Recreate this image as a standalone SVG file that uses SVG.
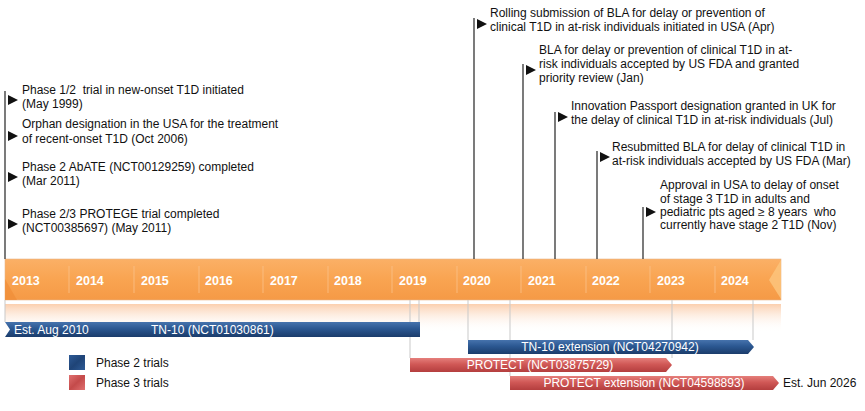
<svg xmlns="http://www.w3.org/2000/svg" width="865" height="411" viewBox="0 0 865 411">
<defs>
<linearGradient id="gOrange" x1="0" y1="0" x2="0" y2="1">
<stop offset="0" stop-color="#fbb066"/>
<stop offset="0.5" stop-color="#f9a451"/>
<stop offset="1" stop-color="#f59a46"/>
</linearGradient>
<linearGradient id="gPeach" x1="0" y1="0" x2="0" y2="1">
<stop offset="0" stop-color="#fbcfae"/>
<stop offset="1" stop-color="#ffffff" stop-opacity="0"/>
</linearGradient>
<linearGradient id="gBlue" x1="0" y1="0" x2="0" y2="1">
<stop offset="0" stop-color="#4673ad"/>
<stop offset="0.45" stop-color="#2b5791"/>
<stop offset="1" stop-color="#1b3c6b"/>
</linearGradient>
<linearGradient id="gRed" x1="0" y1="0" x2="0" y2="1">
<stop offset="0" stop-color="#e57f7b"/>
<stop offset="0.45" stop-color="#d05856"/>
<stop offset="1" stop-color="#b43e3e"/>
</linearGradient>
<linearGradient id="gBlueSq" x1="0" y1="0" x2="1" y2="1">
<stop offset="0" stop-color="#2e5b96"/>
<stop offset="0.5" stop-color="#1f4477"/>
<stop offset="1" stop-color="#2e5b96"/>
</linearGradient>
<linearGradient id="gRedSq" x1="0" y1="0" x2="1" y2="1">
<stop offset="0" stop-color="#e07070"/>
<stop offset="0.5" stop-color="#c44a4a"/>
<stop offset="1" stop-color="#e07070"/>
</linearGradient>
</defs>
<style>
.t{font-family:"Liberation Sans",Arial,sans-serif;font-size:12px;fill:#111;white-space:pre}
.yr{font-family:"Liberation Sans",Arial,sans-serif;font-size:12.5px;font-weight:bold;fill:#fff}
.bt{font-family:"Liberation Sans",Arial,sans-serif;font-size:12px;fill:#fff}
.stem{stroke:#222;stroke-width:1.2;fill:none}
.drop{stroke:#c9c9c9;stroke-width:1;fill:none}
.div{stroke:#fcc28a;stroke-width:1;opacity:0.8}
.arr{fill:#111}
</style>

<g id="timeline">
<rect x="5" y="304" width="776" height="28" fill="url(#gPeach)"/>
<rect x="5" y="259" width="776" height="41" fill="url(#gOrange)" stroke="#e8b58a" stroke-width="0.6"/>
<polygon points="5,279 17,300 5,300" fill="#ef8d38" opacity="0.7"/>
<polygon points="781,260 769,280 781,299" fill="#fcc27a" opacity="0.9"/>
<line class="div" x1="69" y1="266" x2="69" y2="293"/>
<line class="div" x1="134" y1="266" x2="134" y2="293"/>
<line class="div" x1="199" y1="266" x2="199" y2="293"/>
<line class="div" x1="263" y1="266" x2="263" y2="293"/>
<line class="div" x1="328" y1="266" x2="328" y2="293"/>
<line class="div" x1="392" y1="266" x2="392" y2="293"/>
<line class="div" x1="457" y1="266" x2="457" y2="293"/>
<line class="div" x1="521" y1="266" x2="521" y2="293"/>
<line class="div" x1="586" y1="266" x2="586" y2="293"/>
<line class="div" x1="650" y1="266" x2="650" y2="293"/>
<line class="div" x1="715" y1="266" x2="715" y2="293"/>
<text class="yr" x="12" y="285">2013</text>
<text class="yr" x="76" y="285">2014</text>
<text class="yr" x="141" y="285">2015</text>
<text class="yr" x="205" y="285">2016</text>
<text class="yr" x="270" y="285">2017</text>
<text class="yr" x="334" y="285">2018</text>
<text class="yr" x="399" y="285">2019</text>
<text class="yr" x="463" y="285">2020</text>
<text class="yr" x="528" y="285">2021</text>
<text class="yr" x="592" y="285">2022</text>
<text class="yr" x="657" y="285">2023</text>
<text class="yr" x="721" y="285">2024</text>
</g>

<g id="connectors">
<line class="stem" x1="5" y1="91" x2="5" y2="259"/>
<line class="stem" x1="474" y1="18" x2="474" y2="259"/>
<line class="stem" x1="523" y1="64" x2="523" y2="259"/>
<line class="stem" x1="555" y1="112" x2="555" y2="259"/>
<line class="stem" x1="597" y1="151" x2="597" y2="259"/>
<line class="stem" x1="643" y1="207" x2="643" y2="259"/>
<line class="drop" x1="5" y1="300" x2="5" y2="322"/>
<line class="drop" x1="410" y1="300" x2="410" y2="358"/>
<line class="drop" x1="419" y1="300" x2="419" y2="322"/>
<line class="drop" x1="468" y1="300" x2="468" y2="340"/>
<line class="drop" x1="510" y1="300" x2="510" y2="376"/>
<line class="drop" x1="672" y1="300" x2="672" y2="358"/>
<line class="drop" x1="753" y1="300" x2="753" y2="340"/>
</g>

<g id="ev-1999">
<polygon class="arr" points="8,95 18,100 8,105"/>
<text class="t" x="22" y="94">Phase 1/2  trial in new-onset T1D initiated</text>
<text class="t" x="22" y="108">(May 1999)</text>
</g>
<g id="ev-2006">
<polygon class="arr" points="8,131 18,136 8,141"/>
<text class="t" x="22" y="128">Orphan designation in the USA for the treatment</text>
<text class="t" x="22" y="143">of recent-onset T1D (Oct 2006)</text>
</g>
<g id="ev-abate">
<polygon class="arr" points="8,172 18,177 8,182"/>
<text class="t" x="22" y="171">Phase 2 AbATE (NCT00129259) completed</text>
<text class="t" x="22" y="185">(Mar 2011)</text>
</g>
<g id="ev-protege">
<polygon class="arr" points="8,219 18,224 8,229"/>
<text class="t" x="22" y="218">Phase 2/3 PROTEGE trial completed</text>
<text class="t" x="22" y="232">(NCT00385697) (May 2011)</text>
</g>

<g id="ev-2020-apr">
<polygon class="arr" points="477,19 487,24 477,29"/>
<text class="t" x="490" y="17">Rolling submission of BLA for delay or prevention of</text>
<text class="t" x="490" y="31">clinical T1D in at-risk individuals initiated in USA (Apr)</text>
</g>
<g id="ev-2021-jan">
<polygon class="arr" points="526,65 536,70 526,75"/>
<text class="t" x="539" y="54">BLA for delay or prevention of clinical T1D in at-</text>
<text class="t" x="539" y="68">risk individuals accepted by US FDA and granted</text>
<text class="t" x="539" y="82">priority review (Jan)</text>
</g>
<g id="ev-2021-jul">
<polygon class="arr" points="558,112 568,117 558,122"/>
<text class="t" x="571" y="110">Innovation Passport designation granted in UK for</text>
<text class="t" x="571" y="124">the delay of clinical T1D in at-risk individuals (Jul)</text>
</g>
<g id="ev-2022-mar">
<polygon class="arr" points="600,152 610,157 600,162"/>
<text class="t" x="612" y="151">Resubmitted BLA for delay of clinical T1D in</text>
<text class="t" x="612" y="165">at-risk individuals accepted by US FDA (Mar)</text>
</g>
<g id="ev-2022-nov">
<polygon class="arr" points="646,207 656,212 646,217"/>
<text class="t" x="660" y="189">Approval in USA to delay of onset</text>
<text class="t" x="660" y="203">of stage 3 T1D in adults and</text>
<text class="t" x="660" y="216">pediatric pts aged ≥ 8 years  who</text>
<text class="t" x="660" y="229">currently have stage 2 T1D (Nov)</text>
</g>

<g id="bar-tn10">
<polygon points="5,322 420,322 420,337 5,337 10,329.5" fill="url(#gBlue)"/>
<text class="bt" x="14" y="334">Est. Aug 2010</text>
<text class="bt" x="151" y="334">TN-10 (NCT01030861)</text>
</g>
<g id="bar-tn10-ext">
<polygon points="468,340 748,340 754,347 748,354 468,354" fill="url(#gBlue)"/>
<text class="bt" x="610" y="351" text-anchor="middle">TN-10 extension (NCT04270942)</text>
</g>
<g id="bar-protect">
<polygon points="410,358 666,358 672,365 666,372 410,372" fill="url(#gRed)"/>
<text class="bt" x="540" y="369" text-anchor="middle">PROTECT (NCT03875729)</text>
</g>
<g id="bar-protect-ext">
<polygon points="510,376 773,376 779,383 773,390 510,390" fill="url(#gRed)"/>
<text class="bt" x="644" y="387" text-anchor="middle">PROTECT extension (NCT04598893)</text>
<text class="t" x="783" y="387">Est. Jun 2026</text>
</g>

<g id="legend">
<rect x="69" y="355" width="16" height="15" fill="url(#gBlueSq)"/>
<text class="t" x="96" y="367">Phase 2 trials</text>
<rect x="69" y="375" width="16" height="15" fill="url(#gRedSq)"/>
<text class="t" x="96" y="387">Phase 3 trials</text>
</g>
</svg>
